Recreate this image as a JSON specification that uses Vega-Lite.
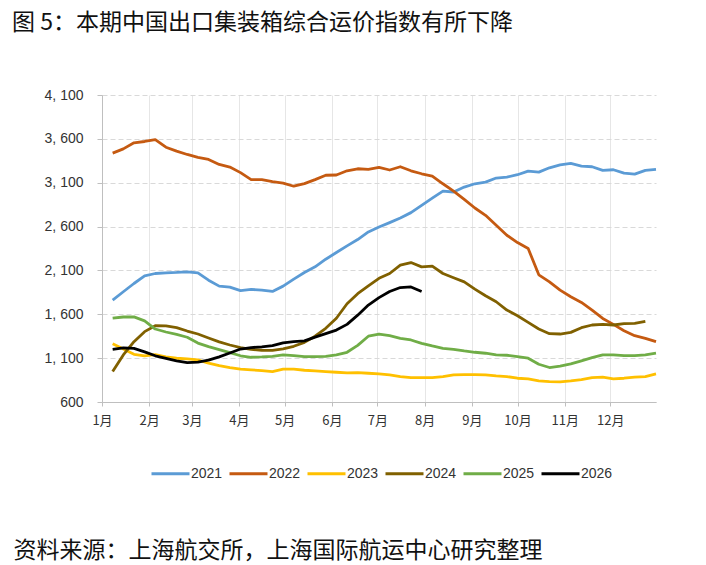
{
  "$schema": "https://vega.github.io/schema/vega-lite/v6.json",
  "autosize": "none",
  "width": 554,
  "height": 307,
  "padding": {"left": 102, "top": 95, "right": 50, "bottom": 163},
  "background": "white",
  "title": {
    "text": "图 5：本期中国出口集装箱综合运价指数有所下降",
    "anchor": "start",
    "frame": "group",
    "dx": -90,
    "offset": 53,
    "font": "Noto Sans CJK SC",
    "fontSize": 23,
    "fontWeight": "normal",
    "color": "#111111"
  },
  "data": {
    "format": {"parse": {"md": "utc:'%m-%d'"}},
    "values": [
      {"md": "01-08", "s": "2021", "v": 1762}, {"md": "01-15", "s": "2021", "v": 1857}, {"md": "01-22", "s": "2021", "v": 1951}, {"md": "01-29", "s": "2021", "v": 2039},
      {"md": "02-05", "s": "2021", "v": 2065}, {"md": "02-12", "s": "2021", "v": 2073}, {"md": "02-19", "s": "2021", "v": 2077}, {"md": "02-26", "s": "2021", "v": 2084},
      {"md": "03-05", "s": "2021", "v": 2073}, {"md": "03-12", "s": "2021", "v": 1989}, {"md": "03-19", "s": "2021", "v": 1921}, {"md": "03-26", "s": "2021", "v": 1910},
      {"md": "04-02", "s": "2021", "v": 1870}, {"md": "04-09", "s": "2021", "v": 1883}, {"md": "04-16", "s": "2021", "v": 1876}, {"md": "04-23", "s": "2021", "v": 1861},
      {"md": "04-30", "s": "2021", "v": 1921}, {"md": "05-07", "s": "2021", "v": 2001}, {"md": "05-14", "s": "2021", "v": 2077}, {"md": "05-21", "s": "2021", "v": 2141},
      {"md": "05-28", "s": "2021", "v": 2228}, {"md": "06-04", "s": "2021", "v": 2304}, {"md": "06-11", "s": "2021", "v": 2380}, {"md": "06-18", "s": "2021", "v": 2452},
      {"md": "06-25", "s": "2021", "v": 2539}, {"md": "07-02", "s": "2021", "v": 2595}, {"md": "07-09", "s": "2021", "v": 2645}, {"md": "07-16", "s": "2021", "v": 2698},
      {"md": "07-23", "s": "2021", "v": 2759}, {"md": "07-30", "s": "2021", "v": 2842}, {"md": "08-06", "s": "2021", "v": 2925}, {"md": "08-13", "s": "2021", "v": 3005},
      {"md": "08-20", "s": "2021", "v": 2994}, {"md": "08-27", "s": "2021", "v": 3050}, {"md": "09-03", "s": "2021", "v": 3088}, {"md": "09-10", "s": "2021", "v": 3107},
      {"md": "09-17", "s": "2021", "v": 3153}, {"md": "09-24", "s": "2021", "v": 3164}, {"md": "10-01", "s": "2021", "v": 3191}, {"md": "10-08", "s": "2021", "v": 3232},
      {"md": "10-15", "s": "2021", "v": 3221}, {"md": "10-22", "s": "2021", "v": 3270}, {"md": "10-29", "s": "2021", "v": 3304}, {"md": "11-05", "s": "2021", "v": 3320},
      {"md": "11-12", "s": "2021", "v": 3289}, {"md": "11-19", "s": "2021", "v": 3282}, {"md": "11-26", "s": "2021", "v": 3240}, {"md": "12-03", "s": "2021", "v": 3248},
      {"md": "12-10", "s": "2021", "v": 3210}, {"md": "12-17", "s": "2021", "v": 3198}, {"md": "12-24", "s": "2021", "v": 3240}, {"md": "12-31", "s": "2021", "v": 3251},

      {"md": "01-08", "s": "2022", "v": 3437}, {"md": "01-15", "s": "2022", "v": 3486}, {"md": "01-22", "s": "2022", "v": 3555}, {"md": "01-29", "s": "2022", "v": 3570},
      {"md": "02-05", "s": "2022", "v": 3592}, {"md": "02-12", "s": "2022", "v": 3505}, {"md": "02-19", "s": "2022", "v": 3460}, {"md": "02-26", "s": "2022", "v": 3422},
      {"md": "03-05", "s": "2022", "v": 3388}, {"md": "03-12", "s": "2022", "v": 3365}, {"md": "03-19", "s": "2022", "v": 3308}, {"md": "03-26", "s": "2022", "v": 3278},
      {"md": "04-02", "s": "2022", "v": 3215}, {"md": "04-09", "s": "2022", "v": 3135}, {"md": "04-16", "s": "2022", "v": 3135}, {"md": "04-23", "s": "2022", "v": 3112},
      {"md": "04-30", "s": "2022", "v": 3095}, {"md": "05-07", "s": "2022", "v": 3060}, {"md": "05-14", "s": "2022", "v": 3090}, {"md": "05-21", "s": "2022", "v": 3135},
      {"md": "05-28", "s": "2022", "v": 3185}, {"md": "06-04", "s": "2022", "v": 3188}, {"md": "06-11", "s": "2022", "v": 3236}, {"md": "06-18", "s": "2022", "v": 3259},
      {"md": "06-25", "s": "2022", "v": 3251}, {"md": "07-02", "s": "2022", "v": 3274}, {"md": "07-09", "s": "2022", "v": 3245}, {"md": "07-16", "s": "2022", "v": 3282},
      {"md": "07-23", "s": "2022", "v": 3236}, {"md": "07-30", "s": "2022", "v": 3202}, {"md": "08-06", "s": "2022", "v": 3176}, {"md": "08-13", "s": "2022", "v": 3088},
      {"md": "08-20", "s": "2022", "v": 3005}, {"md": "08-27", "s": "2022", "v": 2910}, {"md": "09-03", "s": "2022", "v": 2812}, {"md": "09-10", "s": "2022", "v": 2728},
      {"md": "09-17", "s": "2022", "v": 2615}, {"md": "09-24", "s": "2022", "v": 2501}, {"md": "10-01", "s": "2022", "v": 2418}, {"md": "10-08", "s": "2022", "v": 2350},
      {"md": "10-15", "s": "2022", "v": 2050}, {"md": "10-22", "s": "2022", "v": 1970}, {"md": "10-29", "s": "2022", "v": 1876}, {"md": "11-05", "s": "2022", "v": 1800},
      {"md": "11-12", "s": "2022", "v": 1735}, {"md": "11-19", "s": "2022", "v": 1648}, {"md": "11-26", "s": "2022", "v": 1553}, {"md": "12-03", "s": "2022", "v": 1485},
      {"md": "12-10", "s": "2022", "v": 1413}, {"md": "12-17", "s": "2022", "v": 1356}, {"md": "12-24", "s": "2022", "v": 1326}, {"md": "12-31", "s": "2022", "v": 1288},

      {"md": "01-08", "s": "2023", "v": 1265}, {"md": "01-15", "s": "2023", "v": 1205}, {"md": "01-22", "s": "2023", "v": 1144}, {"md": "01-29", "s": "2023", "v": 1125},
      {"md": "02-05", "s": "2023", "v": 1140}, {"md": "02-12", "s": "2023", "v": 1114}, {"md": "02-19", "s": "2023", "v": 1099}, {"md": "02-26", "s": "2023", "v": 1091},
      {"md": "03-05", "s": "2023", "v": 1080}, {"md": "03-12", "s": "2023", "v": 1042}, {"md": "03-19", "s": "2023", "v": 1015}, {"md": "03-26", "s": "2023", "v": 993},
      {"md": "04-02", "s": "2023", "v": 974}, {"md": "04-09", "s": "2023", "v": 966}, {"md": "04-16", "s": "2023", "v": 958}, {"md": "04-23", "s": "2023", "v": 947},
      {"md": "04-30", "s": "2023", "v": 975}, {"md": "05-07", "s": "2023", "v": 974}, {"md": "05-14", "s": "2023", "v": 962}, {"md": "05-21", "s": "2023", "v": 955},
      {"md": "05-28", "s": "2023", "v": 947}, {"md": "06-04", "s": "2023", "v": 939}, {"md": "06-11", "s": "2023", "v": 932}, {"md": "06-18", "s": "2023", "v": 936},
      {"md": "06-25", "s": "2023", "v": 928}, {"md": "07-02", "s": "2023", "v": 920}, {"md": "07-09", "s": "2023", "v": 909}, {"md": "07-16", "s": "2023", "v": 890},
      {"md": "07-23", "s": "2023", "v": 879}, {"md": "07-30", "s": "2023", "v": 879}, {"md": "08-06", "s": "2023", "v": 879}, {"md": "08-13", "s": "2023", "v": 890},
      {"md": "08-20", "s": "2023", "v": 909}, {"md": "08-27", "s": "2023", "v": 913}, {"md": "09-03", "s": "2023", "v": 913}, {"md": "09-10", "s": "2023", "v": 909},
      {"md": "09-17", "s": "2023", "v": 898}, {"md": "09-24", "s": "2023", "v": 890}, {"md": "10-01", "s": "2023", "v": 871}, {"md": "10-08", "s": "2023", "v": 864},
      {"md": "10-15", "s": "2023", "v": 841}, {"md": "10-22", "s": "2023", "v": 833}, {"md": "10-29", "s": "2023", "v": 830}, {"md": "11-05", "s": "2023", "v": 841},
      {"md": "11-12", "s": "2023", "v": 856}, {"md": "11-19", "s": "2023", "v": 879}, {"md": "11-26", "s": "2023", "v": 883}, {"md": "12-03", "s": "2023", "v": 864},
      {"md": "12-10", "s": "2023", "v": 871}, {"md": "12-17", "s": "2023", "v": 883}, {"md": "12-24", "s": "2023", "v": 890}, {"md": "12-31", "s": "2023", "v": 920},

      {"md": "01-08", "s": "2024", "v": 947}, {"md": "01-15", "s": "2024", "v": 1137}, {"md": "01-22", "s": "2024", "v": 1288}, {"md": "01-29", "s": "2024", "v": 1402},
      {"md": "02-05", "s": "2024", "v": 1470}, {"md": "02-12", "s": "2024", "v": 1467}, {"md": "02-19", "s": "2024", "v": 1448}, {"md": "02-26", "s": "2024", "v": 1409},
      {"md": "03-05", "s": "2024", "v": 1375}, {"md": "03-12", "s": "2024", "v": 1330}, {"md": "03-19", "s": "2024", "v": 1285}, {"md": "03-26", "s": "2024", "v": 1250},
      {"md": "04-02", "s": "2024", "v": 1220}, {"md": "04-09", "s": "2024", "v": 1201}, {"md": "04-16", "s": "2024", "v": 1190}, {"md": "04-23", "s": "2024", "v": 1188},
      {"md": "04-30", "s": "2024", "v": 1205}, {"md": "05-07", "s": "2024", "v": 1235}, {"md": "05-14", "s": "2024", "v": 1280}, {"md": "05-21", "s": "2024", "v": 1350},
      {"md": "05-28", "s": "2024", "v": 1440}, {"md": "06-04", "s": "2024", "v": 1555}, {"md": "06-11", "s": "2024", "v": 1720}, {"md": "06-18", "s": "2024", "v": 1835},
      {"md": "06-25", "s": "2024", "v": 1925}, {"md": "07-02", "s": "2024", "v": 2010}, {"md": "07-09", "s": "2024", "v": 2065}, {"md": "07-16", "s": "2024", "v": 2160},
      {"md": "07-23", "s": "2024", "v": 2190}, {"md": "07-30", "s": "2024", "v": 2141}, {"md": "08-06", "s": "2024", "v": 2149}, {"md": "08-13", "s": "2024", "v": 2065},
      {"md": "08-20", "s": "2024", "v": 2016}, {"md": "08-27", "s": "2024", "v": 1970}, {"md": "09-03", "s": "2024", "v": 1887}, {"md": "09-10", "s": "2024", "v": 1811},
      {"md": "09-17", "s": "2024", "v": 1743}, {"md": "09-24", "s": "2024", "v": 1648}, {"md": "10-01", "s": "2024", "v": 1584}, {"md": "10-08", "s": "2024", "v": 1508},
      {"md": "10-15", "s": "2024", "v": 1432}, {"md": "10-22", "s": "2024", "v": 1379}, {"md": "10-29", "s": "2024", "v": 1375}, {"md": "11-05", "s": "2024", "v": 1394},
      {"md": "11-12", "s": "2024", "v": 1447}, {"md": "11-19", "s": "2024", "v": 1478}, {"md": "11-26", "s": "2024", "v": 1485}, {"md": "12-03", "s": "2024", "v": 1478},
      {"md": "12-10", "s": "2024", "v": 1493}, {"md": "12-17", "s": "2024", "v": 1497}, {"md": "12-24", "s": "2024", "v": 1520},

      {"md": "01-08", "s": "2025", "v": 1555}, {"md": "01-15", "s": "2025", "v": 1569}, {"md": "01-22", "s": "2025", "v": 1570}, {"md": "01-29", "s": "2025", "v": 1525},
      {"md": "02-05", "s": "2025", "v": 1432}, {"md": "02-12", "s": "2025", "v": 1398}, {"md": "02-19", "s": "2025", "v": 1370}, {"md": "02-26", "s": "2025", "v": 1338},
      {"md": "03-05", "s": "2025", "v": 1272}, {"md": "03-12", "s": "2025", "v": 1231}, {"md": "03-19", "s": "2025", "v": 1198}, {"md": "03-26", "s": "2025", "v": 1162},
      {"md": "04-02", "s": "2025", "v": 1127}, {"md": "04-09", "s": "2025", "v": 1110}, {"md": "04-16", "s": "2025", "v": 1114}, {"md": "04-23", "s": "2025", "v": 1121},
      {"md": "04-30", "s": "2025", "v": 1137}, {"md": "05-07", "s": "2025", "v": 1129}, {"md": "05-14", "s": "2025", "v": 1118}, {"md": "05-21", "s": "2025", "v": 1118},
      {"md": "05-28", "s": "2025", "v": 1121}, {"md": "06-04", "s": "2025", "v": 1137}, {"md": "06-11", "s": "2025", "v": 1167}, {"md": "06-18", "s": "2025", "v": 1245},
      {"md": "06-25", "s": "2025", "v": 1350}, {"md": "07-02", "s": "2025", "v": 1375}, {"md": "07-09", "s": "2025", "v": 1356}, {"md": "07-16", "s": "2025", "v": 1326},
      {"md": "07-23", "s": "2025", "v": 1307}, {"md": "07-30", "s": "2025", "v": 1269}, {"md": "08-06", "s": "2025", "v": 1239}, {"md": "08-13", "s": "2025", "v": 1212},
      {"md": "08-20", "s": "2025", "v": 1201}, {"md": "08-27", "s": "2025", "v": 1182}, {"md": "09-03", "s": "2025", "v": 1167}, {"md": "09-10", "s": "2025", "v": 1156},
      {"md": "09-17", "s": "2025", "v": 1137}, {"md": "09-24", "s": "2025", "v": 1133}, {"md": "10-01", "s": "2025", "v": 1118}, {"md": "10-08", "s": "2025", "v": 1099},
      {"md": "10-15", "s": "2025", "v": 1030}, {"md": "10-22", "s": "2025", "v": 993}, {"md": "10-29", "s": "2025", "v": 1008}, {"md": "11-05", "s": "2025", "v": 1034},
      {"md": "11-12", "s": "2025", "v": 1069}, {"md": "11-19", "s": "2025", "v": 1106}, {"md": "11-26", "s": "2025", "v": 1137}, {"md": "12-03", "s": "2025", "v": 1137},
      {"md": "12-10", "s": "2025", "v": 1129}, {"md": "12-17", "s": "2025", "v": 1129}, {"md": "12-24", "s": "2025", "v": 1137}, {"md": "12-31", "s": "2025", "v": 1156},

      {"md": "01-08", "s": "2026", "v": 1200}, {"md": "01-15", "s": "2026", "v": 1218}, {"md": "01-22", "s": "2026", "v": 1212}, {"md": "01-29", "s": "2026", "v": 1172},
      {"md": "02-05", "s": "2026", "v": 1127}, {"md": "02-12", "s": "2026", "v": 1097}, {"md": "02-19", "s": "2026", "v": 1068}, {"md": "02-26", "s": "2026", "v": 1050},
      {"md": "03-05", "s": "2026", "v": 1055}, {"md": "03-12", "s": "2026", "v": 1078}, {"md": "03-19", "s": "2026", "v": 1115}, {"md": "03-26", "s": "2026", "v": 1158},
      {"md": "04-02", "s": "2026", "v": 1204}, {"md": "04-09", "s": "2026", "v": 1221}, {"md": "04-16", "s": "2026", "v": 1228}, {"md": "04-23", "s": "2026", "v": 1243},
      {"md": "04-30", "s": "2026", "v": 1274}, {"md": "05-07", "s": "2026", "v": 1289}, {"md": "05-14", "s": "2026", "v": 1297}, {"md": "05-21", "s": "2026", "v": 1340},
      {"md": "05-28", "s": "2026", "v": 1380}, {"md": "06-04", "s": "2026", "v": 1420}, {"md": "06-11", "s": "2026", "v": 1485}, {"md": "06-18", "s": "2026", "v": 1590},
      {"md": "06-25", "s": "2026", "v": 1705}, {"md": "07-02", "s": "2026", "v": 1790}, {"md": "07-09", "s": "2026", "v": 1860}, {"md": "07-16", "s": "2026", "v": 1905},
      {"md": "07-23", "s": "2026", "v": 1912}, {"md": "07-30", "s": "2026", "v": 1860}
    ]
  },
  "mark": {"type": "line", "strokeWidth": 2.8, "strokeJoin": "round", "strokeCap": "butt"},
  "encoding": {
    "x": {
      "field": "md",
      "type": "temporal",
      "scale": {
        "type": "utc",
        "domain": [
          {"year": 1900, "month": 1, "date": 1, "utc": true},
          {"year": 1900, "month": 12, "date": 31, "utc": true}
        ]
      },
      "axis": {
        "title": "资料来源：上海航交所，上海国际航运中心研究整理",
        "titleFont": "Noto Sans CJK SC",
        "titleFontSize": 23,
        "titleFontWeight": "normal",
        "titleColor": "#111111",
        "titleAnchor": "start",
        "titleAlign": "left",
        "titleBaseline": "middle",
        "titleX": -89,
        "titleY": 148,
        "tickCount": {"interval": "month", "step": 1},
        "labelExpr": "(utcmonth(datum.value) + 1) + '月'",
        "labelFont": "Noto Sans CJK SC",
        "labelFontSize": 13,
        "labelColor": "#333333",
        "labelPadding": 8,
        "labelFlush": false,
        "labelOverlap": false,
        "tickSize": 4,
        "tickColor": "#bfbfbf",
        "domainColor": "#bfbfbf",
        "grid": true,
        "gridColor": "#e6e6e6",
        "gridWidth": 1
      }
    },
    "y": {
      "field": "v",
      "type": "quantitative",
      "scale": {"domain": [600, 4100], "nice": false, "zero": false},
      "axis": {
        "title": null,
        "values": [600, 1100, 1600, 2100, 2600, 3100, 3600, 4100],
        "labelExpr": "replace(format(datum.value, ','), ',', ', ')",
        "labelFont": "Liberation Sans",
        "labelFontSize": 14,
        "labelColor": "#333333",
        "labelPadding": 14,
        "tickSize": 5,
        "tickColor": "#bfbfbf",
        "domainColor": "#bfbfbf",
        "grid": true,
        "gridColor": "#d9d9d9",
        "gridDash": [5, 3],
        "gridWidth": 1
      }
    },
    "color": {
      "field": "s",
      "type": "nominal",
      "scale": {
        "domain": ["2021", "2022", "2023", "2024", "2025", "2026"],
        "range": ["#5B9BD5", "#C55A11", "#FFC000", "#806000", "#70AD47", "#000000"]
      },
      "legend": {
        "title": null,
        "orient": "none",
        "direction": "horizontal",
        "legendX": 48,
        "legendY": 358,
        "symbolType": "stroke",
        "symbolSize": 1444,
        "symbolStrokeWidth": 3,
        "labelFont": "Liberation Sans",
        "labelFontSize": 14,
        "labelColor": "#333333",
        "labelOffset": 0,
        "columnPadding": 0
      }
    }
  },
  "config": {
    "view": {"stroke": null}
  }
}
